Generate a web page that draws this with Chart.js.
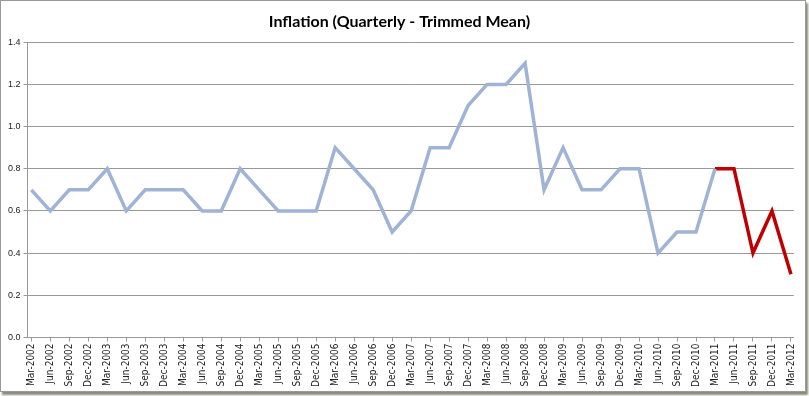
<!DOCTYPE html>
<html>
<head>
<meta charset="utf-8">
<script src="https://cdn.jsdelivr.net/npm/chart.js@4"></script>
<style>
html,body{margin:0;padding:0;background:#fff;}
#wrap{position:absolute;left:0;top:0;width:804px;height:390px;border:1px solid #9a9a9a;box-shadow:2px 3px 2px #8a8a7a;background:#fff;}
canvas{display:block;}
</style>
</head>
<body>
<div id="wrap"><canvas id="c" width="804" height="390"></canvas></div>
<script>
const categories = ["Mar-2002","Jun-2002","Sep-2002","Dec-2002","Mar-2003","Jun-2003","Sep-2003","Dec-2003","Mar-2004","Jun-2004","Sep-2004","Dec-2004","Mar-2005","Jun-2005","Sep-2005","Dec-2005","Mar-2006","Jun-2006","Sep-2006","Dec-2006","Mar-2007","Jun-2007","Sep-2007","Dec-2007","Mar-2008","Jun-2008","Sep-2008","Dec-2008","Mar-2009","Jun-2009","Sep-2009","Dec-2009","Mar-2010","Jun-2010","Sep-2010","Dec-2010","Mar-2011","Jun-2011","Sep-2011","Dec-2011","Mar-2012"];
const historical = [0.7,0.6,0.7,0.7,0.8,0.6,0.7,0.7,0.7,0.6,0.6,0.8,0.7,0.6,0.6,0.6,0.9,0.8,0.7,0.5,0.6,0.9,0.9,1.1,1.2,1.2,1.3,0.7,0.9,0.7,0.7,0.8,0.8,0.4,0.5,0.5,0.8,null,null,null,null];
const recent = [null,null,null,null,null,null,null,null,null,null,null,null,null,null,null,null,null,null,null,null,null,null,null,null,null,null,null,null,null,null,null,null,null,null,null,null,0.8,0.8,0.4,0.6,0.3];
const yTicks = [0.0,0.2,0.4,0.6,0.8,1.0,1.2,1.4];
const title = "Inflation (Quarterly - Trimmed Mean)";

const toPts = (arr) => arr.map((v, i) => ({x: i, y: v}));

new Chart(document.getElementById('c'), {
  type: 'line',
  data: {
    datasets: [
      {data: toPts(historical), borderColor: '#9fb3d6', borderWidth: 3.5, pointRadius: 0, tension: 0, spanGaps: false, borderJoinStyle: 'miter'},
      {data: toPts(recent), borderColor: '#c00000', borderWidth: 3.5, pointRadius: 0, tension: 0, spanGaps: false, borderJoinStyle: 'miter'}
    ]
  },
  options: {
    responsive: false,
    animation: false,
    parsing: true,
    layout: {padding: {left: 4, right: 11, top: 4, bottom: 2}},
    plugins: {
      legend: {display: false},
      tooltip: {enabled: false},
      title: {display: true, text: title, color: '#000',
        font: {family: "Lato, 'Liberation Sans Narrow', Arial", size: 16, weight: 'bold'},
        padding: {top: 7, bottom: 11}}
    },
    scales: {
      x: {
        type: 'linear',
        min: -0.2, max: 40.15,
        afterBuildTicks: (s) => { s.ticks = categories.map((c, i) => ({value: i})); },
        grid: {display: true, drawOnChartArea: false, drawTicks: true, tickLength: 4, color: '#999'},
        border: {display: false},
        ticks: {autoSkip: false, maxRotation: 90, minRotation: 90, color: '#222', padding: 2,
          callback: (v) => categories[Math.round(v)],
          font: {family: "'Liberation Sans Narrow', 'DejaVu Sans Condensed', Arial", size: 10}}
      },
      y: {
        min: 0, max: 1.4,
        afterBuildTicks: (s) => { s.ticks = yTicks.map(v => ({value: v})); },
        grid: {color: '#999', lineWidth: 1, drawTicks: true, tickLength: 4},
        border: {display: true, color: '#999'},
        ticks: {color: '#222', padding: 3, callback: (v) => Number(v).toFixed(1),
          font: {family: "'Liberation Sans', Arial", size: 9}}
      }
    }
  }
});
</script>
</body>
</html>
